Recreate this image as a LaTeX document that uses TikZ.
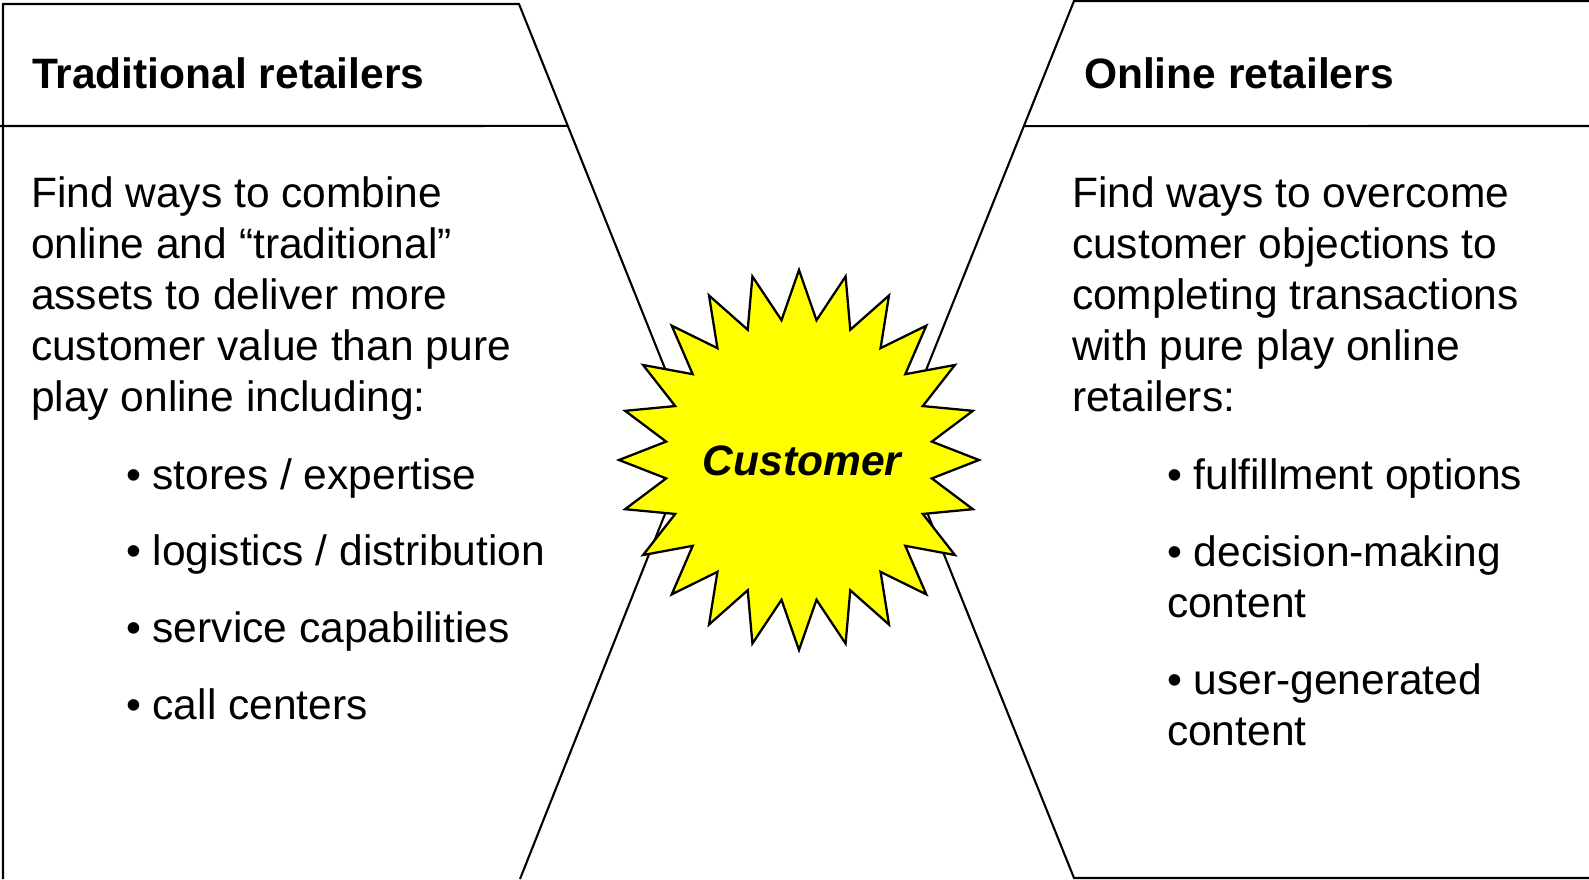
\documentclass[tikz,border=0pt]{standalone}
\usepackage{fontspec}
\setmainfont{Liberation Sans}
\usepackage{tikz}
\usetikzlibrary{calc}
\definecolor{burst}{RGB}{255,255,0}

\begin{document}
\begin{tikzpicture}[x=0.1mm, y=-0.1mm, line width=0.6pt,
  head/.style={anchor=base west, inner sep=0pt, font=\fontsize{12.1}{14.5}\selectfont\bfseries},
  body/.style={anchor=base west, inner sep=0pt, font=\fontsize{12.1}{14.5}\selectfont}]
  \useasboundingbox (0,0) rectangle (1589,879);
  % Left panel
  \coordinate (ltop) at (519,4);
  \coordinate (ltip) at (694,441);
  \coordinate (lbot) at (520,879);
  \draw (3,879) -- (3,4) -- (ltop) -- (ltip) -- (lbot);
  \draw (0,126) -- ($(ltop)!0.279!(ltip)$);
  % Right panel
  \coordinate (rtop) at (1074,1);
  \coordinate (rtip) at (898,440);
  \coordinate (rbot) at (1074,878);
  \draw (1589,1) -- (rtop) -- (rtip) -- (rbot) -- (1589,878);
  \draw ($(rtop)!0.285!(rtip)$) -- (1589,126);
  % Burst
  \draw[fill=burst, line width=0.65pt, shift={(799,460)}] (0:180 and 190)
    \foreach \k in {0,...,23} { -- ({\k*15+7.5}:134 and 141) -- ({\k*15+15}:180 and 190) } -- cycle;
  \node[inner sep=0pt, font=\fontsize{12.1}{14.5}\selectfont\bfseries\itshape] (cust) at (802,461) {Customer};
  % Headers
  \node[head] (lhead) at (31,88) {Traditional retailers};
  \node[head] (rhead) at (1083,88) {Online retailers};
  % Traditional
  \foreach \txt [count=\i from 0] in {Find ways to combine, online and “traditional”,
      assets to deliver more, customer value than pure, play online including:}
    \node[body] (tl\i) at (30,{207+51*\i}) {\txt};
  \foreach \txt [count=\i from 0] in {stores / expertise, logistics / distribution,
      service capabilities, call centers}
    \node[body] (tb\i) at (125,{489+76.7*\i}) {• \txt};
  % Online
  \foreach \txt [count=\i from 0] in {Find ways to overcome, customer objections to,
      completing transactions, with pure play online, retailers:}
    \node[body] (rl\i) at (1071,{207+51*\i}) {\txt};
  \node[body] (rb1) at (1166,489) {• fulfillment options};
  \node[body] (rb2) at (1166,566) {• decision-making};
  \node[body] (rb2c) at (1166,617) {content};
  \node[body] (rb3) at (1166,694) {• user-generated};
  \node[body] (rb3c) at (1166,745) {content};
\end{tikzpicture}
\end{document}
